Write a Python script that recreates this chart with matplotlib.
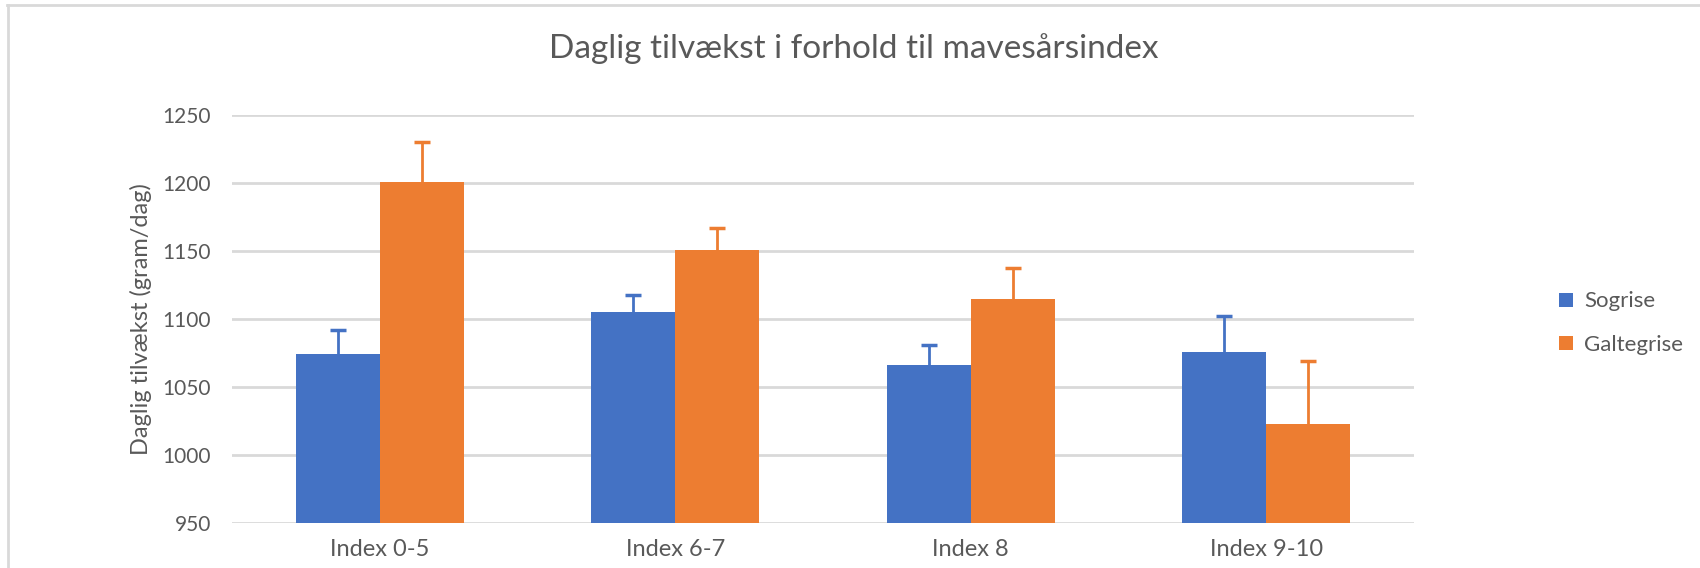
import numpy as np
import matplotlib.pyplot as plt
from matplotlib.lines import Line2D

categories = ['Index 0-5', 'Index 6-7', 'Index 8', 'Index 9-10']
series = ['Sogrise', 'Galtegrise']
sogrise = [1074, 1105, 1066.5, 1076]
sogrise_err = [18, 13, 14, 26]
galtegrise = [1201, 1151, 1115, 1023]
galtegrise_err = [29, 16, 22.5, 46]
yticks = [950, 1000, 1050, 1100, 1150, 1200, 1250]

BLUE = '#4472C4'
ORANGE = '#ED7D31'
GRID = '#D9D9D9'
TEXT = '#595959'

plt.rcParams['font.family'] = ['Lato', 'DejaVu Sans']

fig = plt.figure(figsize=(17, 5.68), dpi=100)
ax = fig.add_axes([0.1365, 0.0796, 0.6953, 0.7176])

x = np.arange(len(categories))
w = 0.284
for vals, errs, col, name, off in [(sogrise, sogrise_err, BLUE, series[0], -w/2),
                                   (galtegrise, galtegrise_err, ORANGE, series[1], w/2)]:
    ax.bar(x + off, np.array(vals) - 950, width=w, bottom=950, color=col, label=name, zorder=3)
    # plus-only error bars, like Excel
    _, caps, _ = ax.errorbar(x + off, vals, yerr=[np.zeros(len(vals)), errs], fmt='none',
                             ecolor=col, elinewidth=2, capsize=5.5, capthick=2.5, zorder=4)
    caps[0].set_visible(False)

ax.set_xlim(-0.5, len(categories) - 0.5)
ax.set_ylim(950, 1250)
ax.set_yticks(yticks)
ax.set_xticks(x)
ax.set_xticklabels(categories, fontsize=17)
ax.tick_params(axis='both', length=0, labelcolor=TEXT)
ax.tick_params(axis='y', labelsize=15, pad=15)
ax.tick_params(axis='x', pad=12)
ax.grid(axis='y', color=GRID, linewidth=2, zorder=0)
for s in ax.spines.values():
    s.set_visible(False)

ax.set_ylabel('Daglig tilvækst (gram/dag)', fontsize=17, color=TEXT, labelpad=8)
fig.text(0.502, 0.914, 'Daglig tilvækst i forhold til mavesårsindex',
         ha='center', va='center', fontsize=24, color=TEXT)

ax.legend(loc='center left', bbox_to_anchor=(1.106, 0.49), frameon=False,
          fontsize=16, labelcolor=TEXT, handlelength=0.6, handleheight=0.6,
          handletextpad=0.5, labelspacing=1.05)

# light chart-area border (top and left visible)
fig.add_artist(Line2D([7 / 1700, 1], [1 - 5 / 568, 1 - 5 / 568], transform=fig.transFigure,
                      color=GRID, linewidth=2))
fig.add_artist(Line2D([8 / 1700, 8 / 1700], [0, 1 - 5 / 568], transform=fig.transFigure,
                      color=GRID, linewidth=2))

fig.savefig('out.png', dpi=100, facecolor='white')
